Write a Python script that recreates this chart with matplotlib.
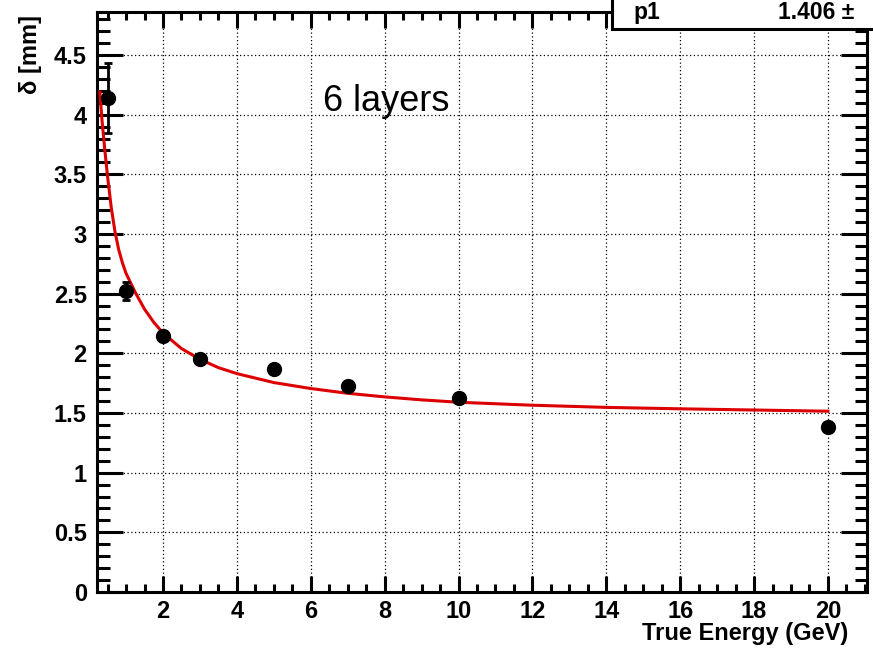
import matplotlib
matplotlib.use("Agg")
import matplotlib.pyplot as plt
from matplotlib.patches import Rectangle
from matplotlib.ticker import MultipleLocator, FixedLocator, FixedFormatter

# ---- data ----
energy = [0.5, 1, 2, 3, 5, 7, 10, 20]
delta = [4.14, 2.52, 2.146, 1.95, 1.867, 1.727, 1.624, 1.386]
delta_err = [0.29, 0.075, 0.02, 0.02, 0.02, 0.02, 0.02, 0.02]

fit_e = [0.29, 0.35, 0.42, 0.5, 0.6, 0.7, 0.8, 0.9, 1.0, 1.25, 1.5, 1.75,
         2.0, 2.5, 3, 3.5, 4, 5, 6, 7, 8, 9, 10, 12, 14, 16, 18, 20]
fit_d = [4.19, 3.95, 3.72, 3.48, 3.22, 3.02, 2.87, 2.76, 2.67, 2.51, 2.37, 2.26,
         2.17, 2.04, 1.95, 1.88, 1.83, 1.755, 1.705, 1.665, 1.635, 1.61, 1.59,
         1.565, 1.547, 1.535, 1.525, 1.515]

xtick_vals = [2, 4, 6, 8, 10, 12, 14, 16, 18, 20]
xtick_labels = ["2", "4", "6", "8", "10", "12", "14", "16", "18", "20"]
ytick_vals = [0, 0.5, 1, 1.5, 2, 2.5, 3, 3.5, 4, 4.5]
ytick_labels = ["0", "0.5", "1", "1.5", "2", "2.5", "3", "3.5", "4", "4.5"]

x_title = "True Energy (GeV)"
y_title = "δ [mm]"
annotation = "6 layers"
stat_name = "p1"
stat_value = "1.406 ±"

FONT = ["Liberation Sans", "DejaVu Sans"]
plt.rcParams["font.family"] = FONT

W, H = 873, 661
fig = plt.figure(figsize=(W / 100, H / 100), dpi=100)
fig.patch.set_facecolor("white")
ax = fig.add_axes([96.5 / W, 1 - 592 / H, (866.7 - 96.5) / W, (592 - 12) / H])

ax.set_xlim(0.2, 21.05)
ax.set_ylim(0, 4.86)

for s in ax.spines.values():
    s.set_linewidth(2.2)
    s.set_color("black")

ax.xaxis.set_major_locator(FixedLocator(xtick_vals))
ax.xaxis.set_major_formatter(FixedFormatter(xtick_labels))
ax.yaxis.set_major_locator(FixedLocator(ytick_vals))
ax.yaxis.set_major_formatter(FixedFormatter(ytick_labels))
ax.xaxis.set_minor_locator(MultipleLocator(0.5))
ax.yaxis.set_minor_locator(MultipleLocator(0.1))

ax.tick_params(axis="both", which="both", direction="in", top=True, right=True,
               width=2.2, color="black")
ax.tick_params(axis="x", which="major", length=11.5, pad=6)
ax.tick_params(axis="x", which="minor", length=5.5)
ax.tick_params(axis="y", which="major", length=19, pad=7)
ax.tick_params(axis="y", which="minor", length=9)
for lab in ax.get_xticklabels() + ax.get_yticklabels():
    lab.set_fontweight("bold")
    lab.set_fontsize(17)

ax.grid(True, which="major", color="black", linestyle=(0, (1, 2)), linewidth=0.9)
ax.set_axisbelow(True)

ax.plot(fit_e, fit_d, color="#dd0000", linewidth=2.2, zorder=3)
ax.errorbar(energy, delta, yerr=delta_err, fmt="o", color="black",
            markersize=10, elinewidth=2, capsize=3, capthick=2, zorder=4)

ax.text(6.32, 4.03, annotation, fontsize=26, va="baseline", ha="left",
        color="black", zorder=5)

fig.text(848 / W, 1 - 640 / H, x_title, ha="right", va="baseline",
         fontsize=17, fontweight="bold")
fig.text(30 / W, 1 - 15 / H, y_title, ha="center", va="top", rotation=90,
         fontsize=17, fontweight="bold")

# stats box (partially outside the canvas)
box = Rectangle((612 / W, 1 - 29 / H), 1, 1, transform=fig.transFigure,
                facecolor="white", edgecolor="black", linewidth=2.2,
                zorder=10, clip_on=False)
fig.add_artist(box)
fig.text(633 / W, 1 - 19 / H, stat_name, ha="left", va="baseline",
         fontsize=16.5, fontweight="bold", zorder=11)
fig.text(778 / W, 1 - 19 / H, stat_value, ha="left", va="baseline",
         fontsize=16.5, fontweight="bold", zorder=11)

fig.savefig("out.png", dpi=100, facecolor="white")
